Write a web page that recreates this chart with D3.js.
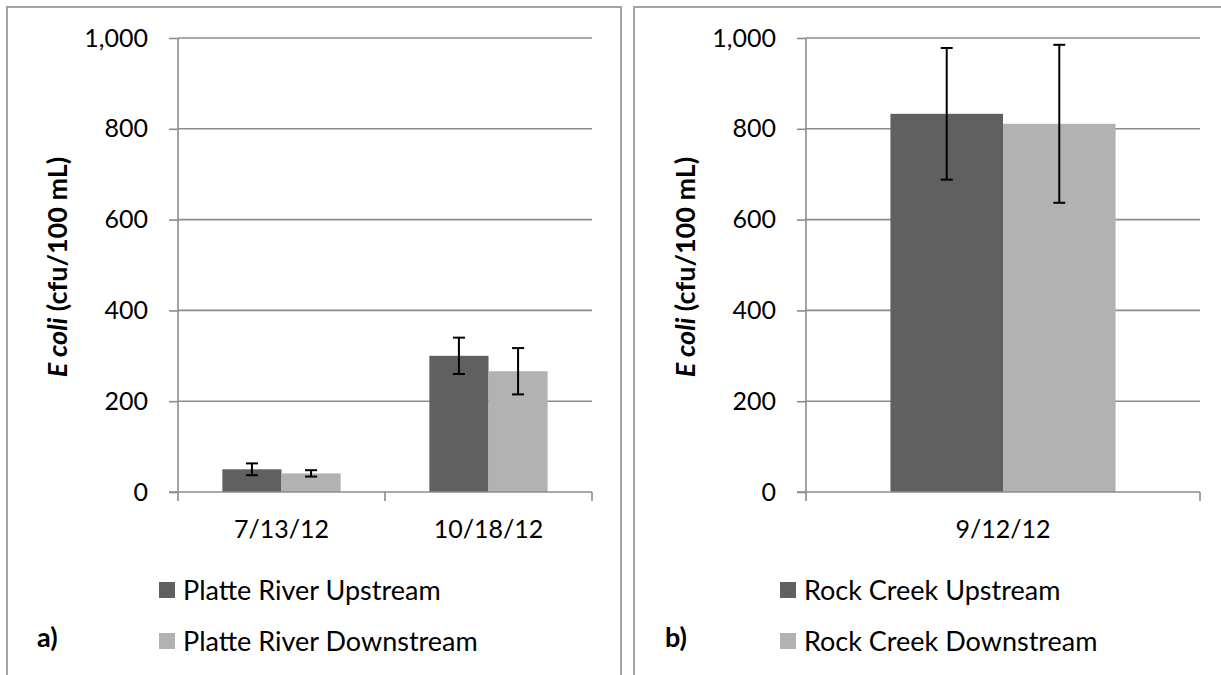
<!DOCTYPE html>
<html>
<head>
<meta charset="utf-8">
<script src="https://cdn.jsdelivr.net/npm/d3@7/dist/d3.min.js"></script>
<style>
  html, body { margin: 0; padding: 0; background: #fff; }
  svg { display: block; }
  text { font-family: Lato, "Open Sans", sans-serif; fill: #000; }
</style>
</head>
<body>
<svg id="chart" width="1221" height="675"></svg>
<script>
// Panel a) Platte River sampling dates
const plattDates = ["7/13/12", "10/18/12"];
const plattUpstream = [50, 300];
const plattUpstreamErr = [13, 40];
const plattDownstream = [41, 266];
const plattDownstreamErr = [7, 51];

// Panel b) Rock Creek sampling date
const rockDates = ["9/12/12"];
const rockUpstream = [833];
const rockUpstreamErr = [145];
const rockDownstream = [811];
const rockDownstreamErr = [174];

const yTicks = [0, 200, 400, 600, 800, 1000];
const yTitle = ["E coli", " (cfu/100 mL)"];

const colorUp = "#606060";
const colorDown = "#b2b2b2";
const gridColor = "#8c8c8c";

const svg = d3.select("#chart");

function drawPanel(opt) {
  const g = svg.append("g");

  // panel frame (open at the bottom, runs past the page)
  g.append("path")
    .attr("d", `M${opt.frameX0},${700} V7 H${opt.frameX1}` + (opt.closeRight ? ` V700` : ""))
    .attr("fill", "none")
    .attr("stroke", "#a3a3a3")
    .attr("stroke-width", 2);

  const y = d3.scaleLinear().domain([0, 1000]).range([492, 38]);
  const x = d3.scaleBand().domain(opt.categories).range([opt.plotX0, opt.plotX1]).padding(0);
  const barW = x.bandwidth() / 3.5;

  // horizontal gridlines
  g.append("g").selectAll("line").data(yTicks.filter(d => d > 0)).join("line")
    .attr("x1", opt.plotX0).attr("x2", opt.plotX1)
    .attr("y1", d => y(d)).attr("y2", d => y(d))
    .attr("stroke", gridColor).attr("stroke-width", 1.6);

  // y axis
  const yAxis = d3.axisLeft(y).tickValues(yTicks).tickSize(9).tickPadding(21)
    .tickFormat(d3.format(","));
  const ya = g.append("g").attr("transform", `translate(${opt.plotX0},0)`).call(yAxis);
  ya.select(".domain").attr("stroke", gridColor).attr("stroke-width", 1.6).attr("d", `M0,38V492`);
  ya.selectAll(".tick line").attr("stroke", gridColor).attr("stroke-width", 1.6);
  ya.selectAll(".tick text").style("font-size", "25px").style("font-family", "Lato").attr("fill", "#000");

  // bars
  const series = [
    { vals: opt.up, errs: opt.upErr, color: colorUp, off: 0 },
    { vals: opt.down, errs: opt.downErr, color: colorDown, off: 1 }
  ];
  series.forEach(s => {
    const bx = (d, i) => x(opt.categories[i]) + x.bandwidth() / 2 - barW + s.off * barW;
    g.append("g").selectAll("rect").data(s.vals).join("rect")
      .attr("x", bx)
      .attr("width", barW)
      .attr("y", d => y(d))
      .attr("height", d => y(0) - y(d))
      .attr("fill", s.color);
  });

  // x axis line with category boundary ticks
  const xa = g.append("g").attr("transform", `translate(0,492)`);
  xa.append("line").attr("x1", opt.plotX0 - 9).attr("x2", opt.plotX1)
    .attr("stroke", gridColor).attr("stroke-width", 1.6);
  const bounds = opt.categories.map(c => x(c)).concat([opt.plotX1]);
  xa.selectAll(".bt").data(bounds).join("line").attr("class", "bt")
    .attr("x1", d => d).attr("x2", d => d).attr("y1", 0).attr("y2", 9)
    .attr("stroke", gridColor).attr("stroke-width", 1.6);
  xa.selectAll("text").data(opt.categories).join("text")
    .attr("x", d => x(d) + x.bandwidth() / 2)
    .attr("y", 46)
    .attr("text-anchor", "middle")
    .style("font-size", "25px")
    .text(d => d);

  // error bars
  series.forEach(s => {
    s.vals.forEach((v, i) => {
      const cx = x(opt.categories[i]) + x.bandwidth() / 2 - barW / 2 + s.off * barW;
      const lo = y(v - s.errs[i]), hi = y(v + s.errs[i]);
      const eg = g.append("g").attr("stroke", "#000").attr("stroke-width", 2);
      eg.append("line").attr("x1", cx).attr("x2", cx).attr("y1", lo).attr("y2", hi);
      eg.append("line").attr("x1", cx - 6).attr("x2", cx + 6).attr("y1", lo).attr("y2", lo);
      eg.append("line").attr("x1", cx - 6).attr("x2", cx + 6).attr("y1", hi).attr("y2", hi);
    });
  });

  // y axis title
  const t = g.append("text")
    .attr("transform", `translate(${opt.titleX},267) rotate(-90)`)
    .attr("text-anchor", "middle")
    .style("font-size", "27px")
    .style("font-weight", "bold");
  t.append("tspan").style("font-style", "italic").text(yTitle[0]);
  t.append("tspan").text(yTitle[1]);

  // legend
  const legendRows = [
    { label: opt.names[0], color: colorUp, yc: 590 },
    { label: opt.names[1], color: colorDown, yc: 641 }
  ];
  const lg = g.append("g");
  legendRows.forEach(r => {
    lg.append("rect").attr("x", opt.legendX).attr("y", r.yc - 8).attr("width", 16).attr("height", 16)
      .attr("fill", r.color);
    lg.append("text").attr("x", opt.legendX + 24).attr("y", r.yc + 10)
      .style("font-size", "27px").text(r.label);
  });

  // panel letter
  g.append("text").attr("x", opt.letterX).attr("y", 647)
    .style("font-size", "27px").style("font-weight", "bold").text(opt.letter);
}

drawPanel({
  frameX0: 7, frameX1: 621, closeRight: true,
  plotX0: 178, plotX1: 592,
  categories: plattDates,
  up: plattUpstream, upErr: plattUpstreamErr,
  down: plattDownstream, downErr: plattDownstreamErr,
  titleX: 67,
  names: ["Platte River Upstream", "Platte River Downstream"],
  legendX: 159,
  letter: "a)", letterX: 37
});

drawPanel({
  frameX0: 634, frameX1: 1240, closeRight: false,
  plotX0: 806, plotX1: 1200,
  categories: rockDates,
  up: rockUpstream, upErr: rockUpstreamErr,
  down: rockDownstream, downErr: rockDownstreamErr,
  titleX: 695,
  names: ["Rock Creek Upstream", "Rock Creek Downstream"],
  legendX: 780,
  letter: "b)", letterX: 665
});
</script>
</body>
</html>
